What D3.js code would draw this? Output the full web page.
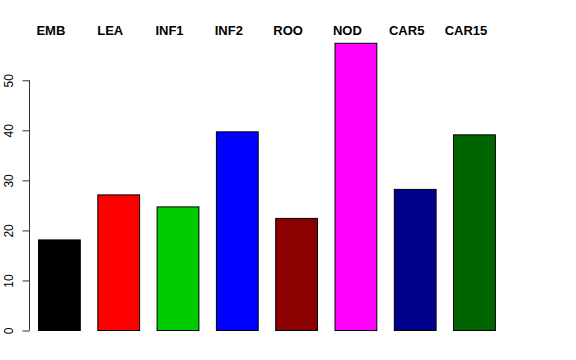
<!DOCTYPE html>
<html>
<head>
<meta charset="utf-8">
<script src="https://cdn.jsdelivr.net/npm/d3@7"></script>
<style>
body { margin: 0; background: #fff; }
svg { display: block; font-family: "Liberation Sans", Arial, Helvetica, sans-serif; }
</style>
</head>
<body>
<div class="bar-plot"></div>
<script>
const categories = ["EMB", "LEA", "INF1", "INF2", "ROO", "NOD", "CAR5", "CAR15"];
const values = [18.1, 27.1, 24.7, 39.7, 22.4, 57.4, 28.2, 39.1];
const barColors = ["#000000", "#FF0000", "#00CD00", "#0000FF", "#8B0000", "#FF00FF", "#00008B", "#006400"];
const yTicks = [0, 10, 20, 30, 40, 50];

const width = 576;
const height = 360;

const svg = d3.select('.bar-plot')
	.append('svg')
	.attr('width', width)
	.attr('height', height)

const x = d3.scaleBand()
	.domain(categories)
	.range([20.5, 512.4])
	.paddingInner(0.295)
	.paddingOuter(0.295)

const y = d3.scaleLinear()
	.domain([0, 50])
	.range([330.5, 80.3])

svg.selectAll('.bar')
	.data(categories)
	.enter()
	.append('rect')
	.attr('class', 'bar')
	.attr('x', function(d) { return x(d) + 0.5; })
	.attr('y', function(d, i) { return y(values[i]); })
	.attr('width', x.bandwidth())
	.attr('height', function(d, i) { return y(0) - y(values[i]); })
	.attr('fill', function(d, i) { return barColors[i]; })
	.attr('stroke', '#000')
	.attr('stroke-width', 1)

// labels along the top, sitting a bit left of each bar centre
svg.selectAll('.lab')
	.data(categories)
	.enter()
	.append('text')
	.attr('class', 'lab')
	.text(function(d) { return d; })
	.attr('x', function(d) { return x(d) + x.bandwidth() / 2 - 8; })
	.attr('y', 35)
	.attr('text-anchor', 'middle')
	.attr('font-weight', 'bold')
	.attr('font-size', '13px')
	.attr('fill', '#000')

const yAxis = svg.append('g')
	.attr('transform', 'translate(29.5,0)')
	.call(d3.axisLeft(y).tickValues(yTicks).tickSize(7).tickSizeOuter(0))

yAxis.select('.domain').attr('stroke', '#333').attr('d', 'M0,' + y(0) + 'V' + y(50))
yAxis.selectAll('.tick line').attr('stroke', '#333')
yAxis.selectAll('.tick text')
	.attr('font-size', '12px')
	.attr('font-family', '"Liberation Sans", Arial, Helvetica, sans-serif')
	.attr('fill', '#000')
	.attr('text-anchor', 'middle')
	.attr('x', 0)
	.attr('dy', 0)
	.attr('transform', 'translate(-16.5,0) rotate(-90)')
</script>
</body>
</html>
